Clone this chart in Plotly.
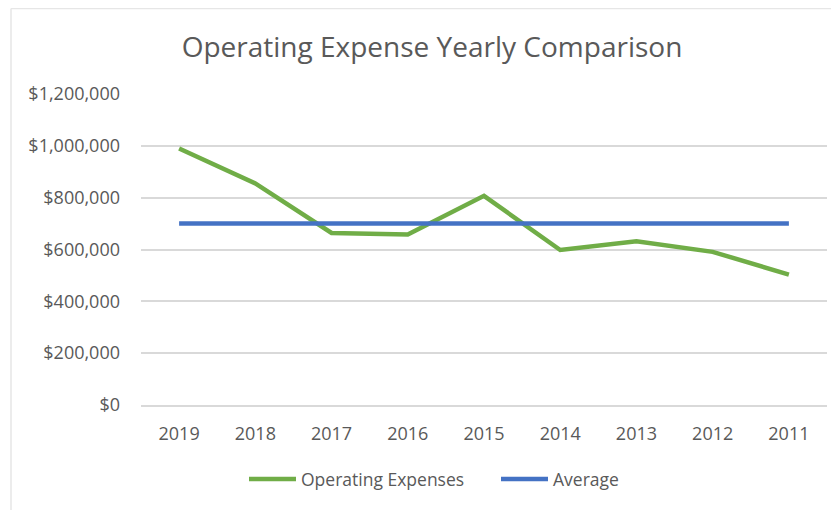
import plotly.graph_objects as go

years = ["2019", "2018", "2017", "2016", "2015", "2014", "2013", "2012", "2011"]
operating_expenses = [990000, 855000, 664000, 658000, 807000, 598000, 632000, 591000, 503000]
average = [700000] * 9
y_tick_vals = [0, 200000, 400000, 600000, 800000, 1000000, 1200000]
y_tick_text = ["$0", "$200,000", "$400,000", "$600,000", "$800,000", "$1,000,000", "$1,200,000"]

FONT = "'Open Sans', sans-serif"
GREY = "#595959"

# page body has an 8px margin, so the figure is offset by 8px
OFF = 8
W, H = 839 - OFF, 510 - OFF
L, T = 141 - OFF, 94 - OFF
R = W - (827 - OFF)
B = H - (405 - OFF)
pw, ph = W - L - R, H - T - B

def px_x(px):
    return (px - OFF - L) / pw

def px_y(py):
    return (H - B - (py - OFF)) / ph

fig = go.Figure()
fig.add_trace(go.Scatter(x=years, y=operating_expenses, mode="lines", name="Operating Expenses",
                         line=dict(color="#70AD47", width=4.5)))
fig.add_trace(go.Scatter(x=years, y=average, mode="lines", name="Average",
                         line=dict(color="#4472C4", width=4.5)))

fig.add_shape(type="line", xref="paper", yref="paper",
              x0=px_x(11), x1=px_x(845), y0=px_y(8.5), y1=px_y(8.5),
              line=dict(color="#E6E6E6", width=1.5))
fig.add_shape(type="line", xref="paper", yref="paper",
              x0=px_x(11), x1=px_x(11), y0=px_y(8.5), y1=px_y(520),
              line=dict(color="#E6E6E6", width=1.5))

fig.update_layout(
    width=W, height=H,
    margin=dict(l=L, r=R, t=T, b=B),
    paper_bgcolor="white", plot_bgcolor="white",
    font=dict(family=FONT, color=GREY, size=18),
    title=dict(text="Operating Expense Yearly Comparison", x=(432 - OFF) / W, xanchor="center",
               y=1 - (47 - OFF) / H, yanchor="middle",
               font=dict(family=FONT, size=28, color=GREY)),
    showlegend=True,
    legend=dict(orientation="h", x=px_x(244), xanchor="left",
                y=px_y(479), yanchor="middle",
                font=dict(size=17.5, color=GREY), itemwidth=47,
                entrywidth=190, entrywidthmode="pixels"),
    xaxis=dict(type="category", range=[-0.5, 8.5], showgrid=False, showline=True,
               linecolor="#D9D9D9", linewidth=1.5, ticks="", tickfont=dict(size=18, color=GREY),
               ticklabelstandoff=12, zeroline=False),
    yaxis=dict(range=[0, 1200000], tickvals=y_tick_vals, ticktext=y_tick_text,
               showgrid=True, gridcolor="#D9D9D9", gridwidth=1.5, zeroline=False,
               showline=False, ticks="", tickfont=dict(size=18, color=GREY),
               ticklabelstandoff=20),
)

fig.write_html("out.html")
